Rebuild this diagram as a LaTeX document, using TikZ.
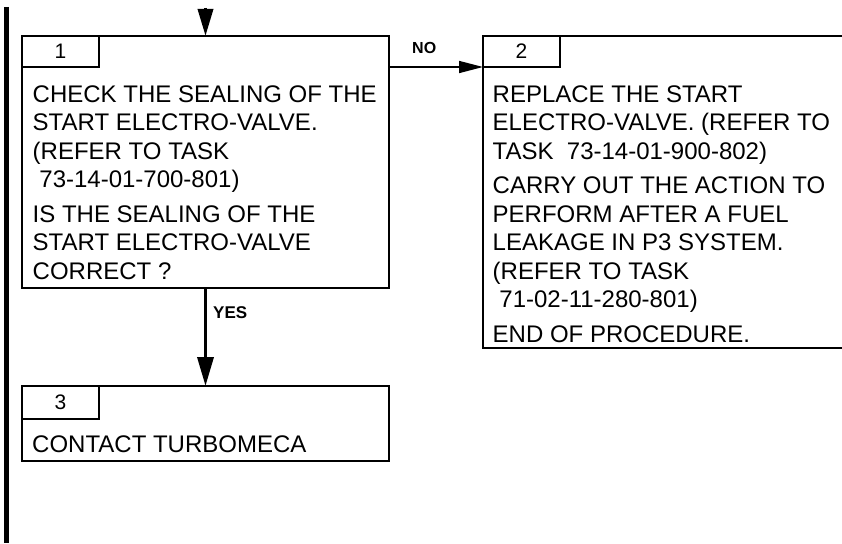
\documentclass[tikz,border=0pt]{standalone}
\usepackage{fontspec}
\setmainfont{Liberation Sans}
\usetikzlibrary{arrows.meta}
\begin{document}
\begin{tikzpicture}[x=1pt,y=-1pt,
  box/.style={draw,line width=2pt,inner sep=0pt,outer sep=0pt,anchor=north west},
  tabbox/.style={box,minimum width=77pt,minimum height=31pt,font=\fontsize{21}{24}\selectfont},
  body/.style={anchor=north west,align=left,inner sep=0pt,font=\fontsize{24}{28.5}\selectfont},
  lbl/.style={anchor=base west,inner sep=0pt,font=\fontsize{17}{20}\selectfont\bfseries},
  thickarrow/.style={line width=3.5pt},
  thinarrow/.style={line width=1.5pt}]
\useasboundingbox[fill=white] (0,0) rectangle (842,543);
\clip (0,0) rectangle (842,543);

% left change bar
\coordinate (bartop) at (6.5,7);
\coordinate (barbot) at (6.5,543);
\draw[line width=5pt] (bartop) -- (barbot);

% box 1
\node[box,minimum width=367pt,minimum height=252pt] (b1) at (22,36) {};
\node[tabbox] (t1) at (22,36) {1};
\node[body] (x1) at (32.5,82.05) {\strut CHECK THE SEALING OF THE\\
START ELECTRO-VALVE.\\
(REFER TO TASK\\
\hspace*{0.28em}73-14-01-700-801)\\[6pt]
IS THE SEALING OF THE\\
START ELECTRO-VALVE\\
CORRECT ?};

% box 2
\node[box,minimum width=380pt,minimum height=312pt] (b2) at (483,36) {};
\node[tabbox] (t2) at (483,36) {2};
\node[body] (x2) at (492.5,82.05) {\strut REPLACE THE START\\
ELECTRO-VALVE. (REFER TO\\
TASK\ \ 73-14-01-900-802)\\[6pt]
CARRY OUT THE ACTION TO\\
PERFORM AFTER A FUEL\\
LEAKAGE IN P3 SYSTEM.\\
(REFER TO TASK\\
\hspace*{0.28em}71-02-11-280-801)\\[6pt]
END OF PROCEDURE.};

% box 3
\node[box,minimum width=367pt,minimum height=75pt] (b3) at (22,386) {};
\node[tabbox,minimum height=33pt] (t3) at (22,386) {3};
\node[body,anchor=base west] (x3) at (32,452) {CONTACT TURBOMECA};

% connectors
\coordinate (entry) at (205.5,8);
\draw[thickarrow,-{Triangle[length=27pt,width=15pt]}] (entry) -- (b1.north);
\draw[thickarrow,-{Triangle[length=29pt,width=16pt]}] (b1.south) -- (b3.north);
\draw[thinarrow,-{Triangle[length=24pt,width=12pt]}] (b1.east |- t1.south) -- (b2.west |- t1.south);

% labels
\node[lbl,font=\fontsize{16}{19}\selectfont\bfseries] (no) at (412,53) {NO};
\node[lbl] (yes) at (213,318) {YES};
\end{tikzpicture}
\end{document}
